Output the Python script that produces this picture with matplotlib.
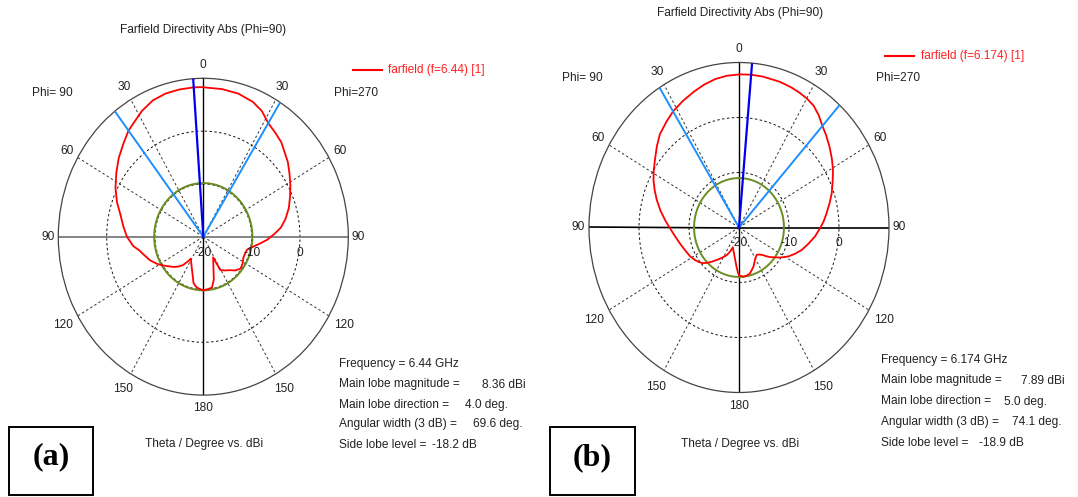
import numpy as np
import matplotlib
matplotlib.use("Agg")
import matplotlib.pyplot as plt
from matplotlib.patches import Rectangle

W, H = 1078, 497
plt.rcParams["font.family"] = ["Liberation Sans", "DejaVu Sans"]
FS = 8.6

# ---------------- (a) f = 6.44 GHz ----------------
theta_a_phi90 = [0, 4, 10, 16, 22, 28, 33, 37.6, 43, 49.5, 56, 63, 70, 76, 83, 90, 97, 101, 106, 112,
                 118, 123, 128, 133, 138, 142, 146, 148, 167, 171, 175, 180]
gain_a_phi90 = [8.33, 8.36, 8.32, 8.22, 7.85, 7.00, 6.05, 5.36, 4.20, 3.00, 1.70, 0.40, -1.00, -2.30, -3.30,
                -4.20, -5.40, -6.50, -7.30, -8.10, -9.10, -10.00, -10.90, -11.60, -12.40, -13.20, -14.40,
                -15.10, -11.00, -10.40, -10.10, -9.84]
theta_a_phi270 = [0, 8, 15, 22, 27, 32, 37, 42, 51, 56, 61.5, 67, 73, 79, 84, 88, 92.6, 96, 100, 105,
                  111, 116, 122, 128, 134, 139, 145, 151, 152.5, 165, 169.5, 175, 180]
gain_a_phi270 = [8.30, 8.22, 8.05, 7.50, 6.70, 5.36, 4.70, 4.10, 2.50, 1.50, 0.50, -0.50, -1.50, -2.70, -3.90,
                 -5.30, -6.80, -8.10, -9.40, -10.60, -10.80, -10.80, -10.40, -10.20, -10.80, -11.60, -12.20,
                 -12.80, -15.60, -11.60, -10.20, -10.00, -9.84]
freq_a = "6.44"
main_mag_a = 8.36          # dBi
main_dir_a = 4.0           # deg, positive = Phi=90 half
beam_edges_a = [37.6, -32.0]   # 3 dB points
width_a = 69.6
sll_a = -18.2

# ---------------- (b) f = 6.174 GHz ----------------
theta_b_phi90 = [0, 5, 10, 15, 20, 26, 32, 37, 43, 48, 54, 59, 63, 68, 73, 79, 85, 90, 97, 104,
                 111, 118, 124, 128, 132, 137, 143, 148, 154, 158, 161, 176, 178.5, 180]
gain_b_phi90 = [7.82, 7.70, 7.40, 6.90, 6.30, 5.60, 4.89, 4.10, 3.20, 2.10, 0.80, -0.10, -0.80, -1.80, -2.80,
                -4.00, -5.20, -6.10, -7.10, -7.85, -8.45, -8.90, -9.40, -9.80, -10.30, -11.30, -12.60,
                -13.50, -14.40, -15.30, -16.20, -12.85, -11.80, -11.30]
theta_b_phi270 = [0, 5, 10, 17, 22, 26, 30, 34, 38, 42.1, 46, 51, 56, 61, 66, 71.5, 76, 81.6, 86, 90,
                  96, 102, 108, 113, 118, 123.5, 128, 131, 134, 136, 140, 144.8, 151.5, 158, 165, 170,
                  174.4, 180]
gain_b_phi270 = [7.85, 7.89, 7.85, 7.72, 7.55, 7.35, 7.10, 6.70, 5.90, 4.89, 4.20, 3.30, 2.40, 1.50, 0.50,
                 -0.45, -1.30, -2.30, -3.00, -3.70, -4.70, -5.80, -6.80, -7.80, -8.80, -10.10, -11.20,
                 -11.80, -12.50, -13.00, -13.60, -13.90, -13.30, -12.30, -11.40, -11.10, -11.01, -11.30]
freq_b = "6.174"
main_mag_b = 7.89
main_dir_b = -5.0
beam_edges_b = [32.0, -42.1]
width_b = 74.1
sll_b = -18.9

R_MIN, R_MAX = -20, 10
ring_levels = [-10, 0]
ring_labels = ["-20", "-10", "0"]
angle_ticks = [30, 60, 120, 150]
label_angles = [0, 30, 60, 90, 120, 150, 180]
angle_labels = ["0", "30", "60", "90", "120", "150", "180"]
label_radius = {0: 12.5, 30: 12.75, 60: 12.6, 90: 12.1, 120: 13.5, 150: 13.4, 180: 12.4}

fig = plt.figure(figsize=(W / 100, H / 100), dpi=100)


def ftext(x, y, s, **kw):
    kw.setdefault("fontsize", FS)
    kw.setdefault("color", "#222222")
    fig.text(x / W, 1 - y / H, s, **kw)


def panel(cx, cy, rx, ry, th90, g90, th270, g270, mag, mdir, edges, sll, hcolor):
    ax = fig.add_axes([(cx - rx) / W, 1 - (cy + ry) / H, 2 * rx / W, 2 * ry / H],
                      projection="polar")
    ax.set_aspect("auto")
    ax.set_theta_zero_location("N")
    ax.set_theta_direction(1)
    ax.set_rlim(R_MIN, R_MAX)
    ax.grid(False)
    ax.set_xticks([])
    ax.set_yticks([])
    ax.spines["polar"].set_color("#444444")
    ax.spines["polar"].set_linewidth(0.9)

    full = np.linspace(0, 2 * np.pi, 721)
    for lev in ring_levels:
        ax.plot(full, np.full_like(full, lev), color="#111111", lw=0.7,
                ls=(0, (2.5, 2.5)), zorder=1)
    for a in angle_ticks:
        for s in (1, -1):
            ax.plot([np.deg2rad(s * a)] * 2, [R_MIN, R_MAX], color="#333333", lw=0.7,
                    ls=(0, (2.5, 2.5)), zorder=1)
    ax.plot([0, 0], [R_MIN, R_MAX], color="black", lw=1.0, zorder=1)
    ax.plot([np.pi] * 2, [R_MIN, R_MAX], color="black", lw=1.0, zorder=1)
    ax.plot([np.pi / 2] * 2, [R_MIN, R_MAX], color=hcolor, lw=1.2, zorder=1)
    ax.plot([-np.pi / 2] * 2, [R_MIN, R_MAX], color=hcolor, lw=1.2, zorder=1)

    # side lobe level circle
    ax.plot(full, np.full_like(full, mag + sll), color="#6b8e23", lw=1.4, zorder=2)

    # pattern: Phi=270 half on the right (negative angles), Phi=90 half on the left
    ang = np.concatenate([-np.array(th270)[::-1], np.array(th90)])
    val = np.concatenate([np.array(g270)[::-1], np.array(g90)])
    ax.plot(np.deg2rad(ang), np.clip(val, R_MIN, None), color="#ff0000", lw=1.3, zorder=3)

    # 3 dB beam edges and main lobe direction
    for e in edges:
        ax.plot([np.deg2rad(e)] * 2, [R_MIN, R_MAX], color="#1e8fff", lw=1.4, zorder=4)
    ax.plot([np.deg2rad(mdir)] * 2, [R_MIN, R_MAX], color="#0000ee", lw=1.6, zorder=5)

    # angle labels
    for a, lab in zip(label_angles, angle_labels):
        sides = (1,) if a in (0, 180) else (1, -1)
        for s in sides:
            ax.text(np.deg2rad(s * a), label_radius[a], lab, ha="center", va="center",
                    fontsize=FS, color="#222222", clip_on=False)
    # ring labels below the horizontal axis
    for lev, lab in zip([R_MIN] + ring_levels, ring_labels):
        ax.annotate(lab, xy=(-np.pi / 2, lev), xytext=(0, -11.5), textcoords="offset points",
                    ha="center", va="center", fontsize=FS, color="#222222", zorder=6)
    return ax


# ----- panel (a) -----
panel(203.3, 236.7, 145, 158.4, theta_a_phi90, gain_a_phi90, theta_a_phi270, gain_a_phi270,
      main_mag_a, main_dir_a, beam_edges_a, sll_a, "#707070")
ftext(203, 30, "Farfield Directivity Abs (Phi=90)", ha="center", va="center")
ftext(52, 93, "Phi= 90", ha="center", va="center")
ftext(334, 93, "Phi=270", ha="left", va="center")
fig.add_artist(plt.Line2D([353 / W, 382 / W], [1 - 70 / H] * 2, color="#ff0000", lw=1.5))
ftext(388, 70, f"farfield (f={freq_a}) [1]", ha="left", va="center", color="#ff2020")
ftext(204, 444, "Theta / Degree vs. dBi", ha="center", va="center")

info_a_y = [363.5, 384.5, 405, 424.5, 444.5]
ftext(339, info_a_y[0], f"Frequency = {freq_a} GHz", va="center")
ftext(339, info_a_y[1], "Main lobe magnitude =", va="center")
ftext(481.7, info_a_y[1], f"{main_mag_a:.2f} dBi", va="center")
ftext(339, info_a_y[2], "Main lobe direction =", va="center")
ftext(465, info_a_y[2], f"{abs(main_dir_a):.1f} deg.", va="center")
ftext(339, info_a_y[3], "Angular width (3 dB) =", va="center")
ftext(473, info_a_y[3], f"{width_a:.1f} deg.", va="center")
ftext(339, info_a_y[4], "Side lobe level =", va="center")
ftext(432, info_a_y[4], f"{sll_a:.1f} dB", va="center")

fig.add_artist(Rectangle((9 / W, 1 - 495 / H), 84 / W, 68 / H, transform=fig.transFigure,
                         fill=False, ec="black", lw=1.4))
fig.text(51 / W, 1 - 457 / H, "(a)", ha="center", va="center", fontsize=23,
         fontweight="bold", family="Liberation Serif")

# ----- panel (b) -----
panel(739, 227.5, 150, 165, theta_b_phi90, gain_b_phi90, theta_b_phi270, gain_b_phi270,
      main_mag_b, main_dir_b, beam_edges_b, sll_b, "black")
ftext(740, 13, "Farfield Directivity Abs (Phi=90)", ha="center", va="center")
ftext(582, 78, "Phi= 90", ha="center", va="center")
ftext(876, 78, "Phi=270", ha="left", va="center")
fig.add_artist(plt.Line2D([885 / W, 914 / W], [1 - 56 / H] * 2, color="#ff0000", lw=1.5))
ftext(921, 56, f"farfield (f={freq_b}) [1]", ha="left", va="center", color="#ff2020")
ftext(740, 443.5, "Theta / Degree vs. dBi", ha="center", va="center")

info_b_y = [359.5, 380.5, 401.5, 422, 443]
ftext(881, info_b_y[0], f"Frequency = {freq_b} GHz", va="center")
ftext(881, info_b_y[1], "Main lobe magnitude =", va="center")
ftext(1021, info_b_y[1], f"{main_mag_b:.2f} dBi", va="center")
ftext(881, info_b_y[2], "Main lobe direction =", va="center")
ftext(1004, info_b_y[2], f"{abs(main_dir_b):.1f} deg.", va="center")
ftext(881, info_b_y[3], "Angular width (3 dB) =", va="center")
ftext(1012, info_b_y[3], f"{width_b:.1f} deg.", va="center")
ftext(881, info_b_y[4], "Side lobe level =", va="center")
ftext(979, info_b_y[4], f"{sll_b:.1f} dB", va="center")

fig.add_artist(Rectangle((550 / W, 1 - 495 / H), 85 / W, 68 / H, transform=fig.transFigure,
                         fill=False, ec="black", lw=1.4))
fig.text(592 / W, 1 - 458 / H, "(b)", ha="center", va="center", fontsize=23,
         fontweight="bold", family="Liberation Serif")

fig.savefig("out.png", dpi=100)
